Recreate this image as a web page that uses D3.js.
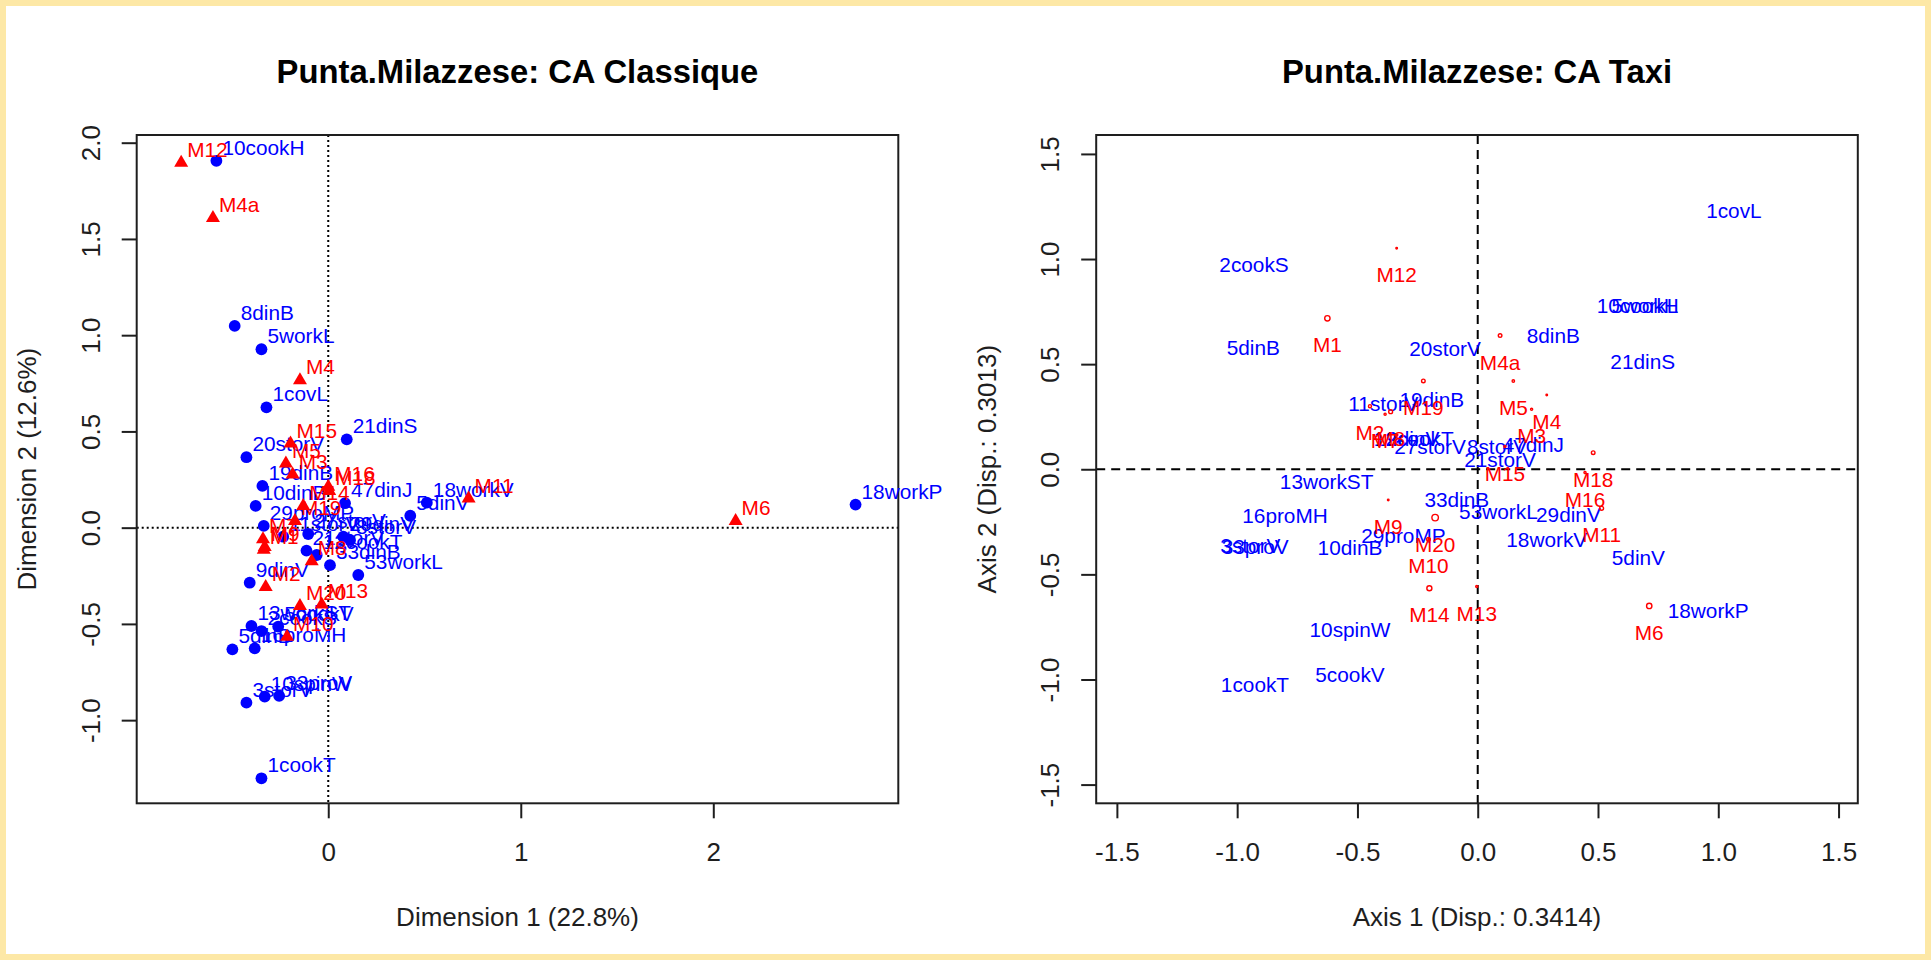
<!DOCTYPE html>
<html>
<head>
<meta charset="utf-8">
<script src="https://cdn.jsdelivr.net/npm/d3@7"></script>
<style>
  html, body { margin: 0; padding: 0; background: #fde8a6; }
  svg { display: block; }
  text { font-family: "Liberation Sans", Arial, sans-serif; }
</style>
</head>
<body>
<svg id="chart" width="1931" height="960"></svg>
<script>
// ---- Classic CA: column profiles (blue) ----
const classicColNames = ["10cookH","8dinB","5workL","1covL","21dinS","20storV","19dinB","10dinB","29proMP","47dinJ",
  "18workV","5dinV","29dinV","27storV","8storV","33dinB","53workL","9dinV","13workST","5cookV",
  "16proMH","5dinB","10spinW","3storV","33proV","1cookT","18workP","2cookS","11storV","21storV","12cookT"];
const classicColX = [-0.581,-0.486,-0.347,-0.321,0.096,-0.425,-0.342,-0.377,-0.335,0.087,
  0.512,0.426,0.078,-0.104,0.113,0.009,0.156,-0.408,-0.399,-0.260,
  -0.382,-0.498,-0.330,-0.425,-0.255,-0.347,2.739,-0.347,-0.234,-0.113,-0.060];
const classicColY = [1.906,1.048,0.927,0.625,0.459,0.366,0.217,0.113,0.009,0.127,
  0.130,0.062,-0.047,-0.033,-0.064,-0.195,-0.246,-0.286,-0.511,-0.514,
  -0.627,-0.632,-0.878,-0.909,-0.874,-1.302,0.120,-0.537,-0.047,-0.119,-0.142];

// ---- Classic CA: row profiles (red) ----
const classicRowNames = ["M12","M4a","M4","M15","M5","M3","M16","M18","M14","M19",
  "M7","M9","M1","M8","M2","M20","M13","M10","M11","M6"];
const classicRowX = [-0.764,-0.599,-0.147,-0.196,-0.220,-0.185,0.000,0.005,-0.130,-0.173,
  -0.339,-0.330,-0.335,-0.086,-0.325,-0.147,-0.034,-0.214,0.729,2.116];
const classicRowY = [1.896,1.609,0.766,0.437,0.333,0.276,0.212,0.190,0.113,0.034,
  -0.060,-0.100,-0.115,-0.174,-0.308,-0.407,-0.399,-0.567,0.151,0.035];

// ---- Taxicab CA: column profiles (blue) ----
const taxiColNames = classicColNames;
const taxiColX = [0.665,0.314,0.695,1.065,0.686,-0.136,-0.191,-0.531,-0.309,0.231,
  0.287,0.668,0.377,-0.198,0.080,-0.087,0.086,-0.270,-0.628,-0.531,
  -0.801,-0.933,-0.531,-0.945,-0.925,-0.926,0.958,-0.930,-0.392,0.093,-0.266];
const taxiColY = [0.777,0.634,0.777,1.229,0.512,0.576,0.333,-0.371,-0.317,0.116,
  -0.333,-0.419,-0.217,0.108,0.108,-0.143,-0.202,0.148,-0.059,-0.979,
  -0.222,0.579,-0.765,-0.363,-0.366,-1.023,-0.674,0.972,0.314,0.044,0.148];

// ---- Taxicab CA: row profiles (red) with relative masses ----
const taxiRowNames = ["M12","M1","M4a","M19","M5","M4","M3","M8","M2","M7",
  "M15","M18","M11","M16","M6","M9","M20","M10","M14","M13"];
const taxiRowX = [-0.337,-0.625,0.093,-0.226,0.148,0.287,0.224,-0.362,-0.448,-0.385,
  0.113,0.480,0.515,0.446,0.713,-0.372,-0.177,-0.205,-0.201,-0.004];
const taxiRowY = [1.051,0.718,0.636,0.420,0.420,0.353,0.285,0.274,0.300,0.262,
  0.108,0.079,-0.186,-0.016,-0.650,-0.146,-0.230,-0.333,-0.566,-0.558];
const taxiRowMass = [0.10,0.75,0.45,0.45,0.25,0.10,0.20,0.50,0.35,0.20,
  0.20,0.45,0.50,0.20,0.75,0.10,0.95,0.45,0.70,0.20];

// ---- Tick values ----
const classicXTicks = [0, 1, 2];
const classicYTicks = [-1.0, -0.5, 0.0, 0.5, 1.0, 1.5, 2.0];
const taxiXTicks = [-1.5, -1.0, -0.5, 0.0, 0.5, 1.0, 1.5];
const taxiYTicks = [-1.5, -1.0, -0.5, 0.0, 0.5, 1.0, 1.5];

const svg = d3.select("#chart");
svg.append("rect").attr("x", 6).attr("y", 6).attr("width", 1919).attr("height", 948).attr("fill", "#ffffff");

const INK = "#1e1e1e";
const AXIS_FONT = 26;
const LABEL_FONT = 20.8;

function zip(names, xs, ys, extra) {
  return names.map((n, i) => ({ name: n, x: xs[i], y: ys[i], m: extra ? extra[i] : null }));
}

function panel(o) {
  const g = svg.append("g");
  const x = d3.scaleLinear().domain(o.xDomain).range([o.left, o.right]);
  const y = d3.scaleLinear().domain(o.yDomain).range([o.bottom, o.top]);

  // title
  g.append("text").attr("x", (o.left + o.right) / 2).attr("y", 83)
    .attr("text-anchor", "middle").attr("font-weight", "bold").attr("font-size", 32.8)
    .attr("fill", "#000").text(o.title);

  // bottom axis
  const xa = g.append("g").attr("transform", `translate(0,${o.bottom})`)
    .style("color", INK)
    .call(d3.axisBottom(x).tickValues(o.xTicks).tickFormat(o.xFmt).tickSize(15).tickPadding(24));
  xa.select(".domain").remove();
  xa.selectAll("line").attr("stroke-width", 2);
  xa.selectAll("text").attr("font-size", AXIS_FONT).attr("font-family", "Liberation Sans, Arial, sans-serif").attr("fill", INK);

  // left axis, labels parallel to the axis
  const ya = g.append("g").attr("transform", `translate(${o.left},0)`)
    .style("color", INK)
    .call(d3.axisLeft(y).tickValues(o.yTicks).tickFormat(o.yFmt).tickSize(15));
  ya.select(".domain").remove();
  ya.selectAll("line").attr("stroke-width", 2);
  ya.selectAll("text")
    .attr("x", null).attr("dy", null).attr("y", null)
    .attr("text-anchor", "middle")
    .attr("transform", `translate(${o.yLabelX - o.left},0) rotate(-90)`)
    .attr("font-size", AXIS_FONT).attr("font-family", "Liberation Sans, Arial, sans-serif").attr("fill", INK);

  // axis titles
  g.append("text").attr("x", (o.left + o.right) / 2).attr("y", 926)
    .attr("text-anchor", "middle").attr("font-size", AXIS_FONT).attr("fill", INK).text(o.xTitle);
  g.append("text")
    .attr("transform", `translate(${o.yTitleX},${(o.top + o.bottom) / 2}) rotate(-90)`)
    .attr("text-anchor", "middle").attr("font-size", AXIS_FONT).attr("fill", INK).text(o.yTitle);

  // reference lines through the origin
  g.append("line").attr("x1", x(0)).attr("x2", x(0)).attr("y1", o.top).attr("y2", o.bottom)
    .attr("stroke", "#000").attr("stroke-width", o.refWidth).attr("stroke-dasharray", o.refDash);
  g.append("line").attr("x1", o.left).attr("x2", o.right).attr("y1", y(0)).attr("y2", y(0))
    .attr("stroke", "#000").attr("stroke-width", o.refWidth).attr("stroke-dasharray", o.refDash);

  // frame
  g.append("rect").attr("x", o.left).attr("y", o.top)
    .attr("width", o.right - o.left).attr("height", o.bottom - o.top)
    .attr("fill", "none").attr("stroke", INK).attr("stroke-width", 2);

  return { g, x, y };
}

// ---------- Left panel: classic CA ----------
const L = panel({
  title: "Punta.Milazzese: CA Classique",
  left: 136.7, right: 898.3, top: 135, bottom: 803.3,
  xDomain: [-0.995, 2.961], yDomain: [-1.432, 2.040],
  xTicks: classicXTicks, yTicks: classicYTicks,
  xFmt: d => d.toFixed(0), yFmt: d => d.toFixed(1),
  xTitle: "Dimension 1 (22.8%)", yTitle: "Dimension 2 (12.6%)",
  yLabelX: 99.5, yTitleX: 36,
  refDash: "2,3", refWidth: 2
});

const classicCols = zip(classicColNames, classicColX, classicColY);
const classicRows = zip(classicRowNames, classicRowX, classicRowY);
const triangle = "M0,-8L7,4L-7,4Z";

L.g.append("g").selectAll("circle").data(classicCols).join("circle")
  .attr("cx", d => L.x(d.x)).attr("cy", d => L.y(d.y)).attr("r", 5.9).attr("fill", "#0000ff");
L.g.append("g").selectAll("text").data(classicCols).join("text")
  .attr("x", d => L.x(d.x) + 6).attr("y", d => L.y(d.y) - 6)
  .attr("font-size", LABEL_FONT).attr("fill", "#0000ff").text(d => d.name);
L.g.append("g").selectAll("path").data(classicRows).join("path")
  .attr("d", triangle).attr("transform", d => `translate(${L.x(d.x)},${L.y(d.y)})`).attr("fill", "#ff0000");
L.g.append("g").selectAll("text").data(classicRows).join("text")
  .attr("x", d => L.x(d.x) + 6).attr("y", d => L.y(d.y) - 6)
  .attr("font-size", LABEL_FONT).attr("fill", "#ff0000").text(d => d.name);

// ---------- Right panel: taxicab CA ----------
const R = panel({
  title: "Punta.Milazzese: CA Taxi",
  left: 1096.2, right: 1857.8, top: 135, bottom: 803.3,
  xDomain: [-1.586, 1.580], yDomain: [-1.589, 1.590],
  xTicks: taxiXTicks, yTicks: taxiYTicks,
  xFmt: d => d.toFixed(1), yFmt: d => d.toFixed(1),
  xTitle: "Axis 1 (Disp.: 0.3414)", yTitle: "Axis 2 (Disp.: 0.3013)",
  yLabelX: 1059, yTitleX: 995.5,
  refDash: "9,6", refWidth: 2
});

const taxiCols = zip(taxiColNames, taxiColX, taxiColY);
const taxiRows = zip(taxiRowNames, taxiRowX, taxiRowY, taxiRowMass);
const massRadius = d3.scaleLinear().domain([0, 1]).range([0.5, 3.4]);

R.g.append("g").selectAll("text").data(taxiCols).join("text")
  .attr("x", d => R.x(d.x)).attr("y", d => R.y(d.y) + 7.4)
  .attr("text-anchor", "middle").attr("font-size", LABEL_FONT).attr("fill", "#0000ff").text(d => d.name);
R.g.append("g").selectAll("circle").data(taxiRows).join("circle")
  .attr("cx", d => R.x(d.x)).attr("cy", d => R.y(d.y)).attr("r", d => massRadius(d.m))
  .attr("fill", "none").attr("stroke", "#ff0000").attr("stroke-width", 1.4);
R.g.append("g").selectAll("text").data(taxiRows).join("text")
  .attr("x", d => R.x(d.x)).attr("y", d => R.y(d.y) + 34)
  .attr("text-anchor", "middle").attr("font-size", LABEL_FONT).attr("fill", "#ff0000").text(d => d.name);
</script>
</body>
</html>
